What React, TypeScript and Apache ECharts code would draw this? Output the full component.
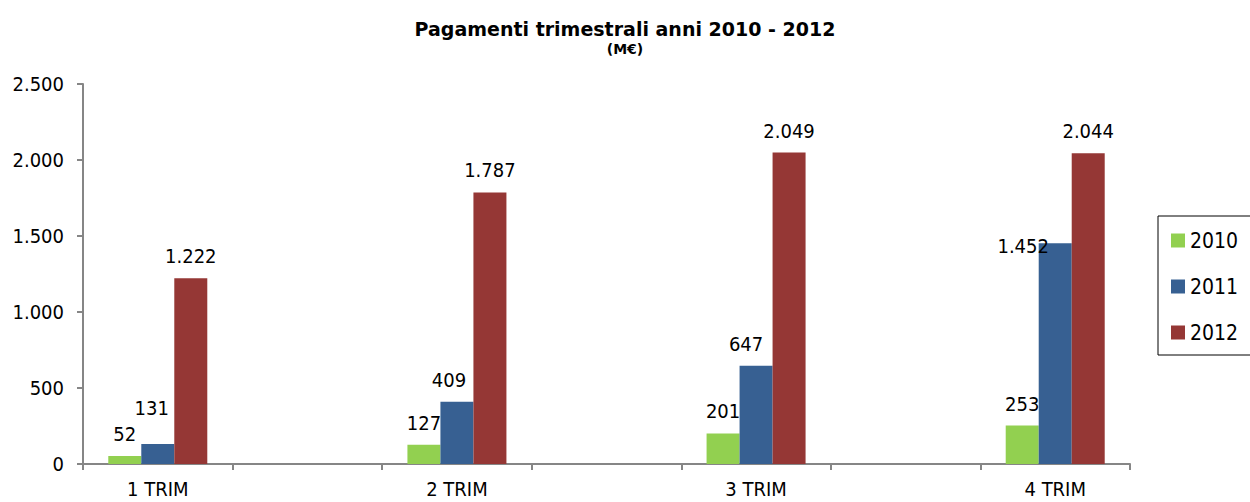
import React, { useEffect, useRef } from "react";
import * as echarts from "echarts";

const quarters = ["1 TRIM", "2 TRIM", "3 TRIM", "4 TRIM"];
const seriesNames = ["2010", "2011", "2012"];
const values2010 = [52, 127, 201, 253];
const values2011 = [131, 409, 647, 1452];
const values2012 = [1222, 1787, 2049, 2044];
const yTicks = [0, 500, 1000, 1500, 2000, 2500];

const colors = ["#92D050", "#376092", "#953735"];
// label nudges (style only): [seriesIndex, quarterIndex, dx, dy]
const labelNudges: [number, number, number, number][] = [
  [1, 0, -6, -14],
  [1, 1, -8, 0],
  [1, 2, -10, 0],
  [1, 3, -32, 25],
];

const FONT = "'DejaVu Sans Condensed', 'DejaVu Sans', 'Liberation Sans', sans-serif";
const TITLE_FONT = "'DejaVu Sans', 'Liberation Sans', sans-serif";

const fmt = (v: number) => String(Math.round(v)).replace(/\B(?=(\d{3})+(?!\d))/g, ".");

export default function App() {
  const ref = useRef<HTMLDivElement>(null);
  useEffect(() => {
    if (!ref.current) return;
    const chart = echarts.init(ref.current, undefined, { renderer: "svg" });
    const cats: string[] = [];
    quarters.forEach((q, i) => {
      cats.push(q);
      if (i < quarters.length - 1) cats.push("");
    });
    const all = [values2010, values2011, values2012];
    const series = all.map((vals, si) => {
      const data: any[] = [];
      vals.forEach((v, qi) => {
        const nudge = labelNudges.find((n) => n[0] === si && n[1] === qi);
        const item: any = { value: v };
        if (nudge) item.label = { offset: [nudge[2], nudge[3]] };
        data.push(item);
        if (qi < vals.length - 1) data.push(null);
      });
      return {
        name: seriesNames[si],
        type: "bar",
        barWidth: 33,
        barGap: "0%",
        itemStyle: { color: colors[si] },
        label: {
          show: true,
          position: "top",
          distance: 12,
          color: "#000",
          fontSize: 20,
          fontFamily: FONT,
          formatter: (p: any) => fmt(p.value),
        },
        data,
      };
    });
    chart.setOption({
      animation: false,
      backgroundColor: "#fff",
      title: [
        {
          text: "Pagamenti trimestrali anni 2010 - 2012",
          left: "center",
          top: 14,
          textStyle: { fontSize: 19, fontWeight: "bold", color: "#000", fontFamily: TITLE_FONT },
        },
        {
          text: "(M€)",
          left: "center",
          top: 37,
          textStyle: { fontSize: 14, fontWeight: "bold", color: "#000", fontFamily: TITLE_FONT },
        },
      ],
      legend: {
        orient: "vertical",
        left: 1158,
        top: 216,
        data: seriesNames,
        icon: "rect",
        itemWidth: 14,
        itemHeight: 14,
        itemGap: 25,
        padding: [14, 60, 12, 13],
        borderColor: "#000",
        borderWidth: 1,
        textStyle: { fontSize: 21, color: "#000", fontFamily: FONT },
      },
      grid: { left: 83, right: 120, top: 84, bottom: 38 },
      xAxis: {
        type: "category",
        data: cats,
        axisLine: { lineStyle: { color: "#868686", width: 2 } },
        axisTick: { show: true, interval: 0, length: 6, lineStyle: { color: "#868686", width: 2 } },
        axisLabel: { interval: 0, margin: 15, fontSize: 20, color: "#000", fontFamily: FONT },
      },
      yAxis: {
        type: "value",
        min: yTicks[0],
        max: yTicks[yTicks.length - 1],
        interval: 500,
        splitLine: { show: false },
        axisLine: { show: true, lineStyle: { color: "#868686", width: 2 } },
        axisTick: { show: true, length: 6, lineStyle: { color: "#868686", width: 2 } },
        axisLabel: { margin: 19, fontSize: 20, color: "#000", fontFamily: FONT, formatter: (v: number) => fmt(v) },
      },
      series,
    });
    return () => chart.dispose();
  }, []);
  return <div ref={ref} style={{ position: "fixed", left: 0, top: 0, width: 1250, height: 502 }} />;
}
